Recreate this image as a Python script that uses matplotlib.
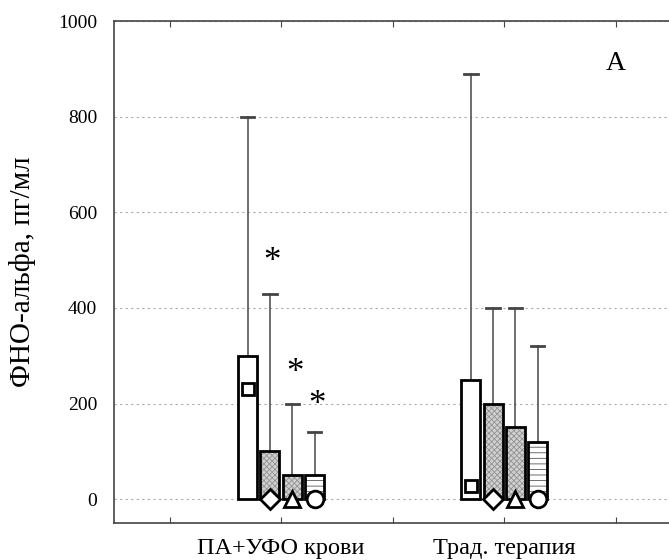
import matplotlib
matplotlib.use("Agg")
import matplotlib.pyplot as plt
import numpy as np

plt.rcParams['font.family'] = ['Liberation Serif', 'DejaVu Serif']
plt.rcParams['hatch.linewidth'] = 0.6

groups = ["ПА+УФО крови", "Трад. терапия"]
group_pos = [1, 3]
# bars: 4 per group
bar_values = [[300, 100, 50, 50], [250, 200, 150, 120]]
whisker_top = [[800, 430, 200, 140], [890, 400, 400, 320]]
median_vals = [[230, 0, 0, 0], [27, 0, 0, 0]]
markers = ['s', 'D', '^', 'o']
marker_sizes = [9, 10, 12, 12]
sig_bars = [1, 2, 3]          # indices in group 1 with asterisks
sig_y = [495, 262, 195]
yticks = [0, 200, 400, 600, 800, 1000]

fig = plt.figure(figsize=(6.69, 5.60), dpi=100)
ax = fig.add_axes([0.170, 0.066, 0.834, 0.896])

offsets = [-0.3, -0.1, 0.1, 0.3]
width = 0.17
cap = 0.12
styles = [
    dict(fc='white', hatch=None, hc=None),
    dict(fc='#d0d0d0', hatch='xxxxxx', hc='#939393'),
    dict(fc='#d0d0d0', hatch='xxxxxx', hc='#939393'),
    dict(fc='white', hatch='---', hc='#555555'),
]

for g, gp in enumerate(group_pos):
    for i in range(4):
        x = gp + offsets[i]
        v = bar_values[g][i]
        wt = whisker_top[g][i]
        # whisker
        ax.plot([x, x], [v, wt], color='#555555', lw=1.2, zorder=2)
        ax.plot([x - cap / 2, x + cap / 2], [wt, wt], color='#444444', lw=2, zorder=2)
        st = styles[i]
        if st['hatch']:
            ax.bar(x, v, width=width, color=st['fc'], hatch=st['hatch'],
                   edgecolor=st['hc'], lw=0, zorder=3)
        else:
            ax.bar(x, v, width=width, color=st['fc'], lw=0, zorder=3)
        ax.bar(x, v, width=width, fill=False, edgecolor='black', lw=2, zorder=4)
        ax.plot(x, median_vals[g][i], marker=markers[i], ms=marker_sizes[i],
                mfc='white', mec='black', mew=2, zorder=5, clip_on=False)

for bi, yy in zip(sig_bars, sig_y):
    ax.text(group_pos[0] + offsets[bi] + 0.02, yy, '*', fontsize=25,
            ha='center', va='center', zorder=6)

ax.text(4.0, 912, 'A', fontsize=20, ha='center', va='center')

ax.set_xlim(-0.5, 4.5)
ax.set_ylim(-50, 1000)
ax.set_yticks(yticks)
ax.set_yticklabels([str(t) for t in yticks], fontsize=14)
ax.set_xticks([0, 1, 2, 3, 4])
ax.set_xticklabels(['', groups[0], '', groups[1], ''], fontsize=17.5)
ax.tick_params(axis='x', direction='in', top=True, length=4, pad=11, color='#444444')
ax.tick_params(axis='y', direction='in', right=True, length=0, pad=12)
ax.yaxis.grid(True, linestyle=(0, (2, 3)), color='#aaaaaa', lw=0.8)
ax.set_axisbelow(True)
for s in ax.spines.values():
    s.set_color('#444444')
    s.set_linewidth(1.2)
ax.set_ylabel('ФНО-альфа, пг/мл', fontsize=21, labelpad=16)

fig.savefig('out.png', dpi=100)
